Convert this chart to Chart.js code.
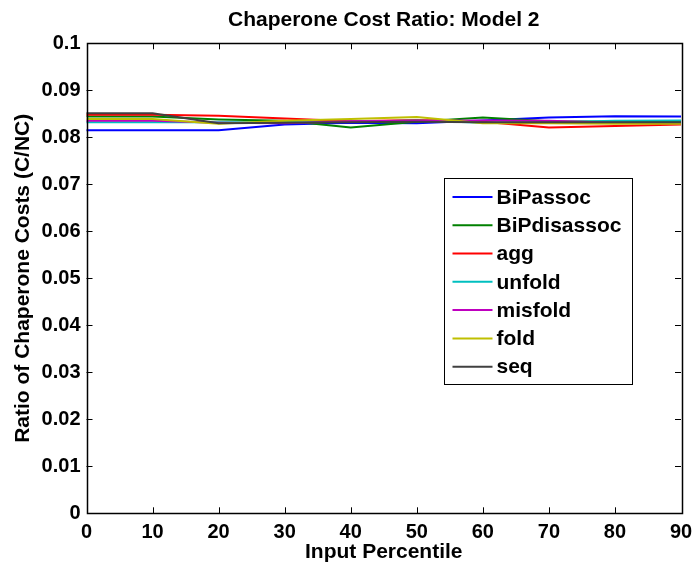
<!DOCTYPE html>
<html>
<head>
<meta charset="utf-8">
<title>Chaperone Cost Ratio: Model 2</title>
<script src="https://cdn.jsdelivr.net/npm/chart.js@4.4.1/dist/chart.umd.min.js"></script>
<style>
  body { margin: 0; background: #fff; }
  canvas { display: block; }
</style>
</head>
<body>
<canvas id="costChart" width="695" height="565"></canvas>
<script>
// input percentiles (x axis)
const percentiles = [0, 10, 20, 30, 40, 50, 60, 70, 80, 90];
const yTickLabels = ['0', '0.01', '0.02', '0.03', '0.04', '0.05', '0.06', '0.07', '0.08', '0.09', '0.1'];

// ratio C/NC
const bipAssoc    = [0.0815, 0.0815, 0.0815, 0.0827, 0.0831, 0.0830, 0.0836, 0.0842, 0.0845, 0.0844];
const bipDisassoc = [0.0844, 0.0844, 0.0838, 0.0835, 0.0821, 0.0833, 0.0842, 0.0834, 0.0833, 0.0833];
const agg         = [0.0848, 0.0848, 0.0846, 0.0840, 0.0834, 0.0837, 0.0833, 0.0821, 0.0824, 0.0827];
const unfold      = [0.0832, 0.0832, 0.0832, 0.0832, 0.0833, 0.0836, 0.0831, 0.0832, 0.0835, 0.0836];
const misfold     = [0.0835, 0.0835, 0.0831, 0.0830, 0.0834, 0.0835, 0.0836, 0.0835, 0.0831, 0.0830];
const fold        = [0.0839, 0.0839, 0.0829, 0.0835, 0.0839, 0.0843, 0.0830, 0.0830, 0.0829, 0.0829];
const seq         = [0.0851, 0.0851, 0.0830, 0.0831, 0.0832, 0.0833, 0.0832, 0.0832, 0.0832, 0.0832];

const seriesNames = ['BiPassoc', 'BiPdisassoc', 'agg', 'unfold', 'misfold', 'fold', 'seq'];
const seriesData = [bipAssoc, bipDisassoc, agg, unfold, misfold, fold, seq];
const seriesColors = ['#0000ff', '#008000', '#ff0000', '#00bfbf', '#bf00bf', '#bfbf00', '#404040'];

const FONT = "'Liberation Sans', Arial, Helvetica, sans-serif";
const TICK = 6;

Chart.defaults.font.family = FONT;
Chart.defaults.font.weight = 'bold';
Chart.defaults.font.size = 20;
Chart.defaults.color = '#000';

// matlab style box with inward ticks on all four sides
const boxPlugin = {
    id: 'matlabBox',
    afterDatasetsDraw(chart) {
        const ctx = chart.ctx;
        const a = chart.chartArea;
        const xs = chart.scales.x, ys = chart.scales.y;
        ctx.save();
        ctx.strokeStyle = '#000';
        ctx.lineWidth = 1;
        ctx.beginPath();
        for (let i = 1; i < xs.ticks.length - 1; i++) {
            const px = Math.round(xs.getPixelForTick(i)) + 0.5;
            ctx.moveTo(px, a.bottom); ctx.lineTo(px, a.bottom - TICK);
            ctx.moveTo(px, a.top); ctx.lineTo(px, a.top + TICK);
        }
        for (let i = 1; i < ys.ticks.length - 1; i++) {
            const py = Math.round(ys.getPixelForTick(i)) + 0.5;
            ctx.moveTo(a.left, py); ctx.lineTo(a.left + TICK, py);
            ctx.moveTo(a.right, py); ctx.lineTo(a.right - TICK, py);
        }
        ctx.stroke();
        ctx.lineWidth = 1.5;
        ctx.strokeRect(Math.round(a.left) + 0.5, Math.round(a.top) + 0.5,
            Math.round(a.right - a.left), Math.round(a.bottom - a.top));
        ctx.restore();
    }
};

// legend box inside the axes, like matlab's
const legendPlugin = {
    id: 'innerLegend',
    afterDraw(chart) {
        const ctx = chart.ctx;
        const a = chart.chartArea;
        const bx = Math.round(a.left + 357) + 0.5;
        const by = Math.round(a.top + 135) + 0.5;
        const bw = 188, bh = 206, row = 28.3;
        ctx.save();
        ctx.fillStyle = '#fff';
        ctx.fillRect(bx, by, bw, bh);
        ctx.strokeStyle = '#000';
        ctx.lineWidth = 1;
        ctx.strokeRect(bx, by, bw, bh);
        ctx.font = 'bold 21px ' + FONT;
        ctx.textBaseline = 'middle';
        ctx.textAlign = 'left';
        chart.data.datasets.forEach((ds, i) => {
            const cy = by + 18.4 + i * row;
            ctx.strokeStyle = ds.borderColor;
            ctx.lineWidth = 2;
            ctx.beginPath();
            ctx.moveTo(bx + 8, cy);
            ctx.lineTo(bx + 48, cy);
            ctx.stroke();
            ctx.fillStyle = '#000';
            ctx.fillText(ds.label, bx + 52, cy + 1);
        });
        ctx.restore();
    }
};

const datasets = seriesNames.map((name, i) => ({
    label: name,
    data: seriesData[i],
    borderColor: seriesColors[i],
    backgroundColor: seriesColors[i],
    borderWidth: 2,
    pointRadius: 0,
    tension: 0,
    fill: false,
    order: seriesNames.length - i   // later series drawn on top
}));

new Chart(document.getElementById('costChart'), {
    type: 'line',
    data: { labels: percentiles, datasets: datasets },
    plugins: [boxPlugin, legendPlugin],
    options: {
        responsive: false,
        animation: false,
        layout: { padding: { left: 0, right: 14, top: 0, bottom: 0 } },
        plugins: {
            legend: { display: false },
            tooltip: { enabled: false },
            title: {
                display: true,
                fullSize: false,
                text: 'Chaperone Cost Ratio: Model 2',
                font: { size: 21, weight: 'bold' },
                color: '#000',
                padding: { top: 8, bottom: 10.1 }
            }
        },
        scales: {
            x: {
                type: 'category',
                offset: false,
                grid: { display: false, drawTicks: false },
                border: { display: false },
                ticks: { padding: 7, maxRotation: 0, autoSkip: false },
                title: {
                    display: true,
                    text: 'Input Percentile',
                    font: { size: 21, weight: 'bold' },
                    padding: { top: 0, bottom: 0 }
                },
                afterFit(scale) {
                    scale.height = 51.7;
                    scale.paddingLeft = 0;
                    scale.paddingRight = 0;
                }
            },
            y: {
                min: 0,
                max: 0.1,
                grid: { display: false, drawTicks: false },
                border: { display: false },
                ticks: {
                    stepSize: 0.01,
                    padding: 6,
                    callback: (v, i) => yTickLabels[i]
                },
                title: {
                    display: true,
                    text: 'Ratio of Chaperone Costs (C/NC)',
                    font: { size: 21, weight: 'bold' },
                    padding: { top: 11, bottom: 0 }
                },
                afterFit(scale) { scale.width = 86.5; }
            }
        }
    }
});
</script>
</body>
</html>
